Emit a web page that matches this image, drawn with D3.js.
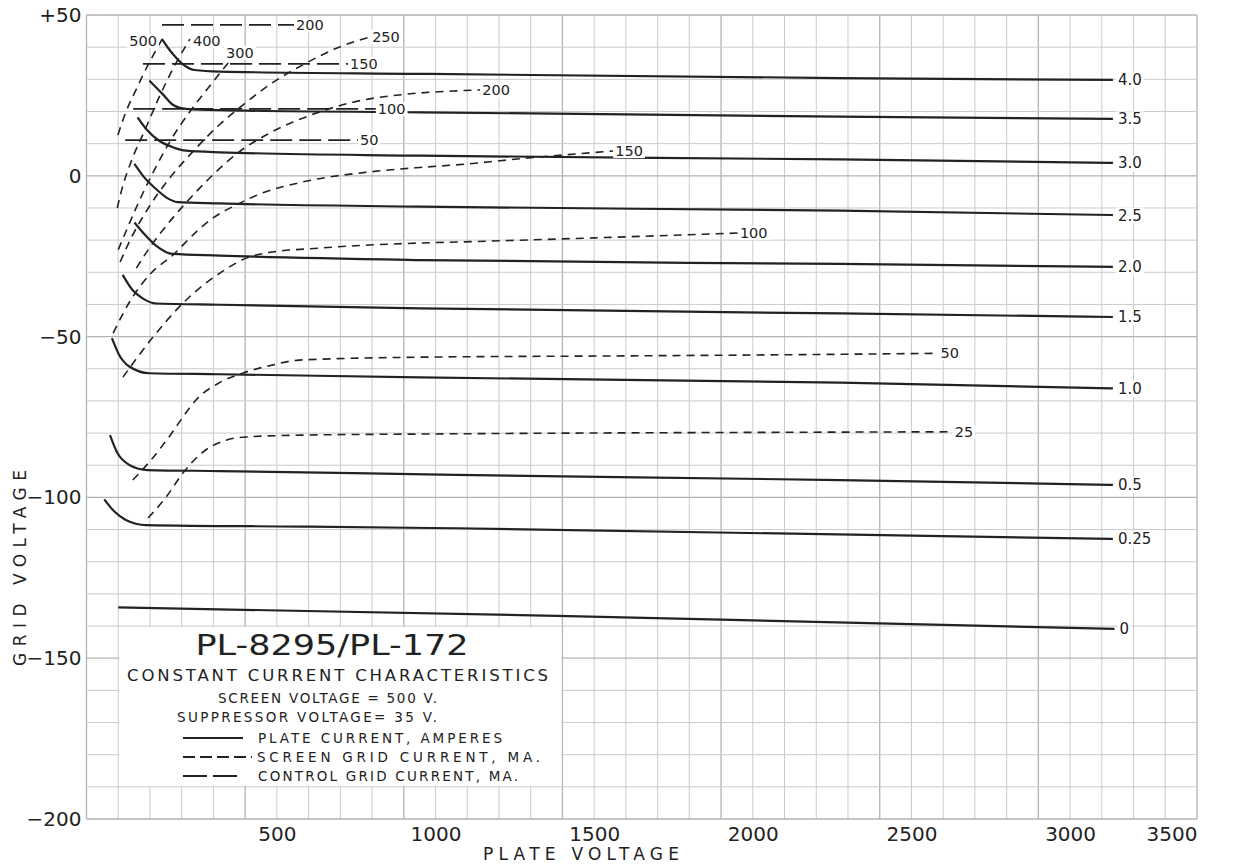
<!DOCTYPE html>
<html>
<head>
<meta charset="utf-8">
<script src="https://cdn.jsdelivr.net/npm/d3@7"></script>
<style>
  body { margin: 0; background: #fff; }
  svg text { font-family: "DejaVu Sans", sans-serif; fill: #222; }
</style>
</head>
<body>
<svg id="chart" width="1236" height="865"></svg>
<script>
// ---- axis ticks ----
const plateTicks = [500, 1000, 1500, 2000, 2500, 3000, 3500];
const gridTicks = [50, 0, -50, -100, -150, -200];
const gridTickLabels = ["+50", "0", "\u221250", "\u2212100", "\u2212150", "\u2212200"];

// ---- plate current, amperes: [plate volts, grid volts] ----
const plateLabels = ["4.0", "3.5", "3.0", "2.5", "2.0", "1.5", "1.0", "0.5", "0.25", "0"];
const plate40 = [[138,42.5],[156,39.9],[177,37.3],[203,34.7],[240,32.9],[320,32.4],[951,31.7],[2275,30.4],[3135,29.8]];
const plate35 = [[98,29.6],[140,25.4],[172,22.1],[214,20.8],[320,20.4],[951,19.75],[2275,18.4],[3135,17.7]];
const plate30 = [[61,18.2],[93,14.0],[129,10.9],[172,8.9],[214,7.8],[320,7.3],[951,6.25],[2275,5.1],[3135,4.0]];
const plate25 = [[51,3.7],[82,-0.5],[119,-4.1],[151,-6.7],[187,-8.2],[320,-8.6],[951,-9.6],[2275,-10.85],[3135,-12.2]];
const plate20 = [[51,-14.5],[82,-18.1],[119,-21.7],[172,-24.3],[320,-24.8],[951,-26.2],[2275,-27.4],[3135,-28.3]];
const plate15 = [[14,-30.8],[45,-35.5],[77,-38.1],[119,-39.7],[320,-40.1],[951,-41.2],[2275,-42.8],[3135,-43.9]];
const plate10 = [[-20,-50.5],[3,-55.7],[35,-59.3],[98,-61.4],[320,-61.7],[951,-62.7],[2275,-64.3],[3135,-66.1]];
const plate05 = [[-26,-80.6],[-2,-86.3],[35,-89.9],[93,-91.5],[320,-91.8],[1065,-93.0],[2275,-94.6],[3135,-96.1]];
const plate025 = [[-44,-100.6],[-12,-104.4],[24,-107.0],[88,-108.6],[600,-109.1],[1065,-109.6],[3135,-112.9]];
const plate0 = [[0,-134.2],[1420,-136.9],[3140,-140.9]];

// ---- screen grid current, mA ----
const screenLabels = ["500", "400", "300", "250", "200", "150", "100", "50", "25"];
const screen500 = [[-1,12.7],[24,19.8],[56,26.7],[94,34.5],[125,40.1],[144,43.5]];
const screen400 = [[-3,-10.0],[12,-4.0],[43,5.0],[84,14.2],[132,25.1],[179,34.5],[226,42.5]];
const screen300 = [[0,-23.0],[30,-16.0],[70,-7.0],[115,2.0],[165,11.0],[226,20.0],[289,28.0],[349,35.4]];
const screen250 = [[6,-26.8],[40,-19.5],[95,-10.0],[160,-1.0],[235,7.5],[318,15.8],[393,22.0],[475,28.2],[582,34.5],[696,40.0],[794,43.2]];
const screen200 = [[57,-28.7],[98,-22.5],[161,-14.4],[236,-6.0],[308,1.2],[381,7.4],[466,12.7],[551,16.7],[633,19.8],[740,22.9],[900,25.3],[1065,26.4],[1141,26.7]];
const screen150 = [[-16,-48.9],[37,-39.0],[104,-30.2],[173,-24.6],[245,-17.5],[299,-13.1],[371,-9.1],[456,-5.3],[582,-1.9],[791,1.2],[951,2.6],[1065,3.4],[1300,5.6],[1560,7.7]];
const screen100 = [[15,-62.6],[110,-50.1],[204,-39.6],[340,-29.0],[403,-25.6],[466,-24.0],[633,-22.5],[951,-20.9],[1065,-20.6],[1500,-19.3],[1953,-17.8]];
const screen50 = [[46,-94.6],[103,-88.4],[160,-81.2],[204,-75.0],[245,-69.7],[318,-64.4],[394,-61.3],[488,-58.8],[570,-57.3],[951,-56.4],[1600,-56.0],[2275,-55.5],[2585,-55.2]];
const screen25 = [[94,-106.4],[151,-99.9],[204,-92.4],[267,-85.9],[340,-82.2],[403,-81.2],[600,-80.6],[951,-80.3],[2275,-79.7],[2630,-79.6]];

// ---- control grid current, mA ----
const controlLabels = ["200", "150", "100", "50"];
const control200 = [[138,46.9],[554,46.9]];
const control150 = [[78,34.8],[724,34.8]];
const control100 = [[47,20.8],[812,20.8]];
const control50 = [[22,11.1],[756,11.1]];

const plateCurves = [plate40, plate35, plate30, plate25, plate20, plate15, plate10, plate05, plate025, plate0]
  .map((pts, i) => ({ label: plateLabels[i], pts }));
const screenCurves = [screen500, screen400, screen300, screen250, screen200, screen150, screen100, screen50, screen25]
  .map((pts, i) => ({ label: screenLabels[i], pts }));
const controlCurves = [control200, control150, control100, control50]
  .map((pts, i) => ({ label: controlLabels[i], pts }));

const svg = d3.select("#chart");
// graph paper runs one division left of zero plate volts
const x = d3.scaleLinear().domain([-100, 3400]).range([86.5, 1197]).clamp(true);
const y = d3.scaleLinear().domain([-200, 50]).range([819, 15]);

// ---- graph paper ----
const grid = svg.append("g");
const isMajorV = d => (d + 100) % 500 === 0;
grid.selectAll("line.v").data(d3.range(-100, 3401, 100)).join("line")
  .attr("x1", d => x(d)).attr("x2", d => x(d))
  .attr("y1", y(50)).attr("y2", y(-200))
  .attr("stroke", d => isMajorV(d) ? "#b3b3b3" : "#cbcbcb")
  .attr("stroke-width", d => isMajorV(d) ? 1.3 : 1);
grid.selectAll("line.h").data(d3.range(-200, 51, 10)).join("line")
  .attr("y1", d => y(d)).attr("y2", d => y(d))
  .attr("x1", x(-100)).attr("x2", x(3400))
  .attr("stroke", d => d % 50 === 0 ? "#b3b3b3" : "#cbcbcb")
  .attr("stroke-width", d => d % 50 === 0 ? 1.3 : 1);

// title panel
const box = { x0: x(0), x1: x(1400), y0: y(-140), y1: y(-190) };
svg.append("rect")
  .attr("x", box.x0 + 1).attr("y", box.y0 + 1)
  .attr("width", box.x1 - box.x0 - 2).attr("height", box.y1 - box.y0 - 2)
  .attr("fill", "#fff");

// ---- axes ----
const xAxis = svg.append("g").attr("transform", `translate(0,${y(-200) + 2})`)
  .call(d3.axisBottom(x).tickValues(plateTicks).tickSize(0).tickPadding(6).tickFormat(d3.format("d")));
xAxis.select(".domain").remove();
xAxis.selectAll("text").attr("font-size", 20).attr("font-family", "DejaVu Sans").attr("fill", "#222");
// the last value sits at the end of the paper
xAxis.selectAll("text").filter(d => d > 3400).attr("text-anchor", "end");

const yAxis = svg.append("g").attr("transform", `translate(${x(-100) - 3},0)`)
  .call(d3.axisLeft(y).tickValues(gridTicks).tickSize(0).tickPadding(2)
    .tickFormat((d, i) => gridTickLabels[i]));
yAxis.select(".domain").remove();
yAxis.selectAll("text").attr("font-size", 20).attr("font-family", "DejaVu Sans").attr("fill", "#222");

svg.append("text").attr("x", 581).attr("y", 860).attr("text-anchor", "middle")
  .attr("font-size", 17).attr("textLength", 196).attr("lengthAdjust", "spacing").text("PLATE VOLTAGE");
svg.append("text").attr("transform", "translate(26,568) rotate(-90)").attr("text-anchor", "middle")
  .attr("font-size", 17).attr("textLength", 196).attr("lengthAdjust", "spacing").text("GRID VOLTAGE");

// ---- curves ----
const smooth = d3.line().x(d => x(d[0])).y(d => y(d[1])).curve(d3.curveMonotoneX);
const straight = d3.line().x(d => x(d[0])).y(d => y(d[1]));

const curves = svg.append("g").attr("fill", "none").attr("stroke", "#222");

curves.selectAll("path.control").data(controlCurves).join("path")
  .attr("d", d => straight(d.pts))
  .attr("stroke-width", 1.8).attr("stroke-dasharray", "22,7");

curves.selectAll("path.screen").data(screenCurves).join("path")
  .attr("d", d => smooth(d.pts))
  .attr("stroke-width", 1.6).attr("stroke-dasharray", "8,6");

curves.selectAll("path.plate").data(plateCurves).join("path")
  .attr("d", d => smooth(d.pts))
  .attr("stroke-width", 2.2);

// ---- curve labels ----
const labels = svg.append("g");
function tag(txt, px, py, anchor, size) {
  const t = labels.append("text").attr("x", px).attr("y", py)
    .attr("text-anchor", anchor || "start").attr("font-size", size || 14.5).text(txt);
  const b = t.node().getBBox();
  labels.insert("rect", "text").attr("x", b.x - 2).attr("y", b.y + 1)
    .attr("width", b.width + 4).attr("height", b.height - 2).attr("fill", "#fff");
  return t;
}
plateCurves.forEach(c => {
  const e = c.pts[c.pts.length - 1];
  tag(c.label, x(e[0]) + 5, y(e[1]) + 5.5, "start", 15);
});
controlCurves.forEach(c => {
  const e = c.pts[c.pts.length - 1];
  tag(c.label, x(e[0]) + 2, y(e[1]) + 5, "start", 14.5);
});
screenCurves.forEach(c => {
  const e = c.pts[c.pts.length - 1];
  let px = x(e[0]) + 2, py = y(e[1]) + 5, anchor = "start";
  if (c.label === "500") { px = x(e[0]) - 7; py = y(e[1]) + 10; anchor = "end"; }
  if (c.label === "400") { px = x(e[0]) + 3; py = y(e[1]) + 7; }
  if (c.label === "300") { px = x(e[0]) - 3; py = y(e[1]) - 4; }
  tag(c.label, px, py, anchor, 14.5);
});

// ---- title panel text ----
const panel = svg.append("g");
panel.append("text").attr("x", 332).attr("y", 655).attr("text-anchor", "middle")
  .attr("font-size", 28).attr("textLength", 273).attr("lengthAdjust", "spacingAndGlyphs")
  .text("PL-8295/PL-172");
panel.append("text").attr("x", 127).attr("y", 681)
  .attr("font-size", 16.5).attr("textLength", 421).attr("lengthAdjust", "spacing")
  .text("CONSTANT CURRENT CHARACTERISTICS");
panel.append("text").attr("x", 218).attr("y", 703)
  .attr("font-size", 13.5).attr("textLength", 219).attr("lengthAdjust", "spacing")
  .text("SCREEN VOLTAGE = 500 V.");
panel.append("text").attr("x", 177).attr("y", 722)
  .attr("font-size", 13.5).attr("textLength", 260).attr("lengthAdjust", "spacing")
  .text("SUPPRESSOR VOLTAGE=  35 V.");

const legendRows = [
  { text: "PLATE CURRENT, AMPERES", dash: null, len: 60, tl: 244, tx: 258 },
  { text: "SCREEN GRID CURRENT,  MA.", dash: "12,5", len: 69, tl: 283, tx: 257 },
  { text: "CONTROL GRID CURRENT, MA.", dash: "24,6", len: 54, tl: 260, tx: 258 }
];
legendRows.forEach((r, i) => {
  const ly = 738 + i * 19;
  panel.append("line").attr("x1", 183).attr("x2", 183 + r.len).attr("y1", ly).attr("y2", ly)
    .attr("stroke", "#222").attr("stroke-width", 1.8)
    .attr("stroke-dasharray", r.dash);
  panel.append("text").attr("x", r.tx).attr("y", ly + 5)
    .attr("font-size", 13.5).attr("textLength", r.tl).attr("lengthAdjust", "spacing")
    .text(r.text);
});
</script>
</body>
</html>
